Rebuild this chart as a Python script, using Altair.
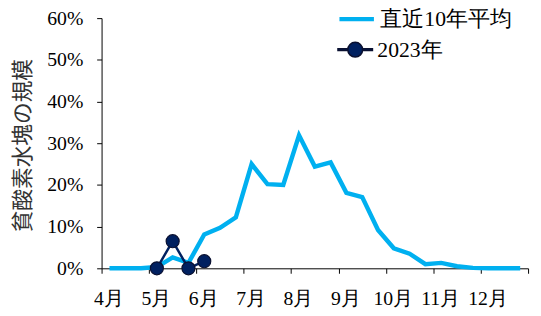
import json
import altair as alt
import pandas as pd

# ---- data -------------------------------------------------------------
months = ["4月", "5月", "6月", "7月", "8月", "9月", "10月", "11月", "12月"]
avg_label = "直近10年平均"
y2023_label = "2023年"
y_title = "貧酸素水塊の規模"

# ten-day periods (上旬/中旬/下旬) from April to December, values in %
avg_values = [0.0, 0.0, 0.0, 0.3, 2.6, 1.3, 8.1, 9.7, 12.2,
              25.0, 20.2, 20.0, 31.9, 24.4, 25.4, 18.1, 17.1, 9.2,
              4.8, 3.5, 1.0, 1.3, 0.5, 0.1, 0.0, 0.0, 0.0]
y2023_first_period = 3
y2023_values = [0.0, 6.5, 0.0, 1.7]

n_periods = len(months) * 3

df_avg = pd.DataFrame({
    "period": [i + 0.5 for i in range(len(avg_values))],
    "value": [v / 100 for v in avg_values],
    "series": avg_label,
})
df_2023 = pd.DataFrame({
    "period": [y2023_first_period + i + 0.5 for i in range(len(y2023_values))],
    "value": [v / 100 for v in y2023_values],
    "series": y2023_label,
})

# ---- styling ----------------------------------------------------------
font = "serif"
light_blue = "#00B0F0"
navy = "#002060"
outline = "#0a1030"

month_js = json.dumps(months, ensure_ascii=False)

x_enc = alt.X(
    "period:Q",
    scale=alt.Scale(domain=[0, n_periods], nice=False, zero=False),
    axis=alt.Axis(
        values=list(range(0, n_periods + 1, 3)),
        labelExpr=f"{month_js}[datum.value / 3] || ''",
        title=None, grid=False, tickSize=5, tickColor="black",
        domainColor="black", labelFont=font, labelFontSize=20,
        labelColor="black", labelOffset=7, labelPadding=16,
        labelFlush=False, labelOverlap=False, labelBound=False,
    ),
)
y_enc = alt.Y(
    "value:Q",
    scale=alt.Scale(domain=[0, 0.6], nice=False),
    axis=alt.Axis(
        values=[0, 0.1, 0.2, 0.3, 0.4, 0.5, 0.6], format=".0%",
        grid=False, tickSize=5, tickColor="black", domainColor="black",
        labelFont=font, labelFontSize=20, labelColor="black", labelPadding=14,
        title=y_title, titleFont="Noto Sans CJK JP", titleFontSize=22,
        titleFontWeight="normal", titleColor="#333333",
        titleX=-80, titleY=129, titleAngle=270, titleAlign="center",
        titleBaseline="middle",
    ),
)

avg_line = alt.Chart(df_avg).mark_line(strokeWidth=4.5).encode(
    x=x_enc, y=y_enc,
    color=alt.Color(
        "series:N",
        scale=alt.Scale(domain=[avg_label], range=[light_blue]),
        legend=alt.Legend(
            title=None, orient="none", legendX=239, legendY=-19,
            symbolType="stroke", symbolSize=1225, symbolStrokeWidth=4.5,
            labelFont=font, labelFontSize=22, labelColor="black",
            labelOffset=4, padding=0,
        ),
    ),
)

line_2023 = alt.Chart(df_2023).mark_line(color=navy, strokeWidth=2.5).encode(
    x=x_enc, y=y_enc,
)

# legend glyph: short line segments either side of a circle marker
legend_path = ("M-1,-0.05H-0.43V0.05H-1Z"
               "M0.43,-0.05H1V0.05H0.43Z"
               "M-0.43,0A0.43,0.43,0,1,1,0.43,0A0.43,0.43,0,1,1,-0.43,0Z")

points_2023 = alt.Chart(df_2023).mark_point(
    filled=True, size=175, color=navy, stroke=outline, strokeWidth=1.2,
).encode(
    x=x_enc, y=y_enc,
    opacity=alt.Opacity(
        "series:N",
        scale=alt.Scale(domain=[y2023_label], range=[1]),
        legend=alt.Legend(
            title=None, orient="none", legendX=239, legendY=13.5,
            symbolType=legend_path, symbolSize=1225,
            symbolFillColor=navy,
            labelFont=font, labelFontSize=22, labelColor="black",
            labelOffset=4, padding=0,
        ),
    ),
)

chart = alt.layer(avg_line, line_2023, points_2023).properties(
    width=433,
    height=254,
    autosize=alt.AutoSizeParams(type="none"),
    padding={"left": 95, "top": 8, "right": 5, "bottom": 38},
    background="white",
).configure(
    font=font
).configure_view(
    strokeWidth=0
)

chart.save("out.html", embed_options={"renderer": "svg", "actions": False})
